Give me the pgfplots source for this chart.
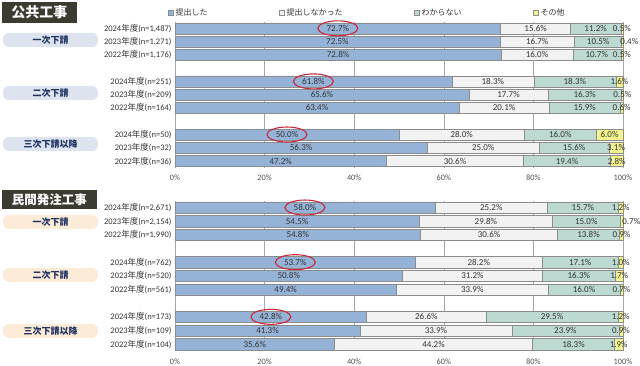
\documentclass[border=0pt]{standalone}
\usepackage{fontspec}
\setmainfont{Carlito}
\newfontfamily\jp{Noto Sans CJK JP}
\usepackage{pgfplots}
\pgfplotsset{compat=1.18}
\usepackage{pgfplotstable}
\usetikzlibrary{shapes.geometric}

\definecolor{cA}{HTML}{95B3D7}
\definecolor{cB}{HTML}{F2F2F2}
\definecolor{cC}{HTML}{BDDAD2}
\definecolor{cD}{HTML}{F4F48E}
\definecolor{edge}{HTML}{8C8C8C}
\definecolor{gridc}{HTML}{A6A6A6}
\definecolor{ringred}{HTML}{C8283C}
\definecolor{headbg}{HTML}{3D3B31}
\definecolor{navy}{HTML}{1F3162}
\definecolor{subblue}{HTML}{DDE4EF}
\definecolor{subpeach}{HTML}{FCEBD7}
\definecolor{txt}{HTML}{333333}

\newcommand\nd{{\jp 年度}}

% public works
\pgfplotstableread{
y a b c d off
10 72.7 15.6 11.2 0.5 0
9 72.5 16.7 10.5 0.4 1.5
8 72.8 16.0 10.7 0.5 0
6 61.8 18.3 18.3 1.6 0
5 65.6 17.7 16.3 0.5 0
4 63.4 20.1 15.9 0.6 0
2 50.0 28.0 16.0 6.0 0
1 56.3 25.0 15.6 3.1 0
0 47.2 30.6 19.4 2.8 0
}\pubtab
% private works
\pgfplotstableread{
y a b c d off
10 58.0 25.2 15.7 1.2 0
9 54.5 29.8 15.0 0.7 2.2
8 54.8 30.6 13.8 0.9 0
6 53.7 28.2 17.1 1.0 0
5 50.8 31.2 16.3 1.7 0
4 49.4 33.9 16.0 0.7 0
2 42.8 26.6 29.5 1.2 0
1 41.3 33.9 23.9 0.9 0
0 35.6 44.2 18.3 1.9 0
}\pritab

\pgfplotsset{
  /pgf/number format/assume math mode=true,
  barbase/.style={
    xbar stacked, scale only axis, width=448pt,
    xmin=0, xmax=100, ymin=-0.5, ymax=10.5,
    xtick={0,20,...,100}, xmajorgrids, grid style={gridc, line width=0.6pt},
    axis line style={draw=none}, major tick length=0pt,
    xticklabel={\pgfmathprintnumber{\tick}\%},
    xticklabel style={font=\fontsize{8.3}{9}\selectfont, text=txt!85, yshift=-4pt},
    ytick={0,1,2,4,5,6,8,9,10},
    yticklabel style={font=\fontsize{8.5}{10}\selectfont, text=txt},
    clip=false,
  },
  labbase/.style={scale only axis, width=448pt, xmin=0, xmax=100,
    ymin=-0.5, ymax=10.5, hide axis, clip=false},
  lab/.style={draw=none, mark=none, point meta=explicit,
    nodes near coords={\pgfmathprintnumber[fixed,fixed zerofill,precision=1]{\pgfplotspointmeta}\%},
    every node near coord/.style={anchor=center, font=\fontsize{9}{10}\selectfont, text=txt, inner sep=0pt}},
  ring/.style={draw=none, mark=none, each nth point=3, filter discard warning=false,
    nodes near coords={\phantom{0}},
    every node near coord/.style={draw=ringred, ellipse, line width=1.1pt,
      minimum width=40pt, minimum height=15pt, anchor=center, inner sep=0pt}},
}

\begin{document}
\begin{tikzpicture}[x=1pt,y=1pt]
\useasboundingbox (0,0) rectangle (640,366);

% ---------- public works ----------
\begin{axis}[barbase, at={(175pt,198.3pt)}, anchor=south west, height=146pt, bar width=11pt,
  yticklabels={{2022\nd(n=36)},{2023\nd(n=32)},{2024\nd(n=50)},
               {2022\nd(n=164)},{2023\nd(n=209)},{2024\nd(n=251)},
               {2022\nd(n=1,176)},{2023\nd(n=1,271)},{2024\nd(n=1,487)}},
  legend columns=4,
  legend style={at={(axis description cs:-0.0156,1.06)}, anchor=west, draw=none, fill=none,
    font=\fontsize{8}{9}\selectfont\jp, inner sep=0pt, text=txt,
    /tikz/every even column/.append style={column sep=69.5pt}, cells={anchor=west}},
  legend image code/.code={\draw[#1] (0pt,-2.5pt) rectangle (5pt,2.5pt);},
]
\addplot[fill=cA, draw=edge, line width=0.5pt] table[x=a, y=y]{\pubtab};
\addlegendentry{提出した}
\addplot[fill=cB, draw=edge, line width=0.5pt] table[x=b, y=y]{\pubtab};
\addlegendentry{提出しなかった}
\addplot[fill=cC, draw=edge, line width=0.5pt] table[x=c, y=y]{\pubtab};
\addlegendentry{わからない}
\addplot[fill=cD, draw=edge, line width=0.5pt] table[x=d, y=y]{\pubtab};
\addlegendentry{その他}
\end{axis}
\begin{axis}[labbase, at={(175pt,198.3pt)}, anchor=south west, height=146pt]
\addplot[lab] table[x expr=\thisrow{a}/2, y=y, meta=a]{\pubtab};
\addplot[lab] table[x expr=\thisrow{a}+\thisrow{b}/2, y=y, meta=b]{\pubtab};
\addplot[lab] table[x expr=\thisrow{a}+\thisrow{b}+\thisrow{c}/2, y=y, meta=c]{\pubtab};
\addplot[lab] table[x expr=\thisrow{a}+\thisrow{b}+\thisrow{c}+\thisrow{d}/2+\thisrow{off}, y=y, meta=d]{\pubtab};
\addplot[ring] table[x expr=\thisrow{a}/2, y=y]{\pubtab};
\end{axis}

% ---------- private works ----------
\begin{axis}[barbase, at={(175pt,15pt)}, anchor=south west, height=150.3pt, bar width=11.3pt,
  yticklabels={{2022\nd(n=104)},{2023\nd(n=109)},{2024\nd(n=173)},
               {2022\nd(n=561)},{2023\nd(n=520)},{2024\nd(n=762)},
               {2022\nd(n=1,990)},{2023\nd(n=2,154)},{2024\nd(n=2,671)}},
]
\addplot[fill=cA, draw=edge, line width=0.5pt] table[x=a, y=y]{\pritab};
\addplot[fill=cB, draw=edge, line width=0.5pt] table[x=b, y=y]{\pritab};
\addplot[fill=cC, draw=edge, line width=0.5pt] table[x=c, y=y]{\pritab};
\addplot[fill=cD, draw=edge, line width=0.5pt] table[x=d, y=y]{\pritab};
\end{axis}
\begin{axis}[labbase, at={(175pt,15pt)}, anchor=south west, height=150.3pt]
\addplot[lab] table[x expr=\thisrow{a}/2, y=y, meta=a]{\pritab};
\addplot[lab] table[x expr=\thisrow{a}+\thisrow{b}/2, y=y, meta=b]{\pritab};
\addplot[lab] table[x expr=\thisrow{a}+\thisrow{b}+\thisrow{c}/2, y=y, meta=c]{\pritab};
\addplot[lab] table[x expr=\thisrow{a}+\thisrow{b}+\thisrow{c}+\thisrow{d}/2+\thisrow{off}, y=y, meta=d]{\pritab};
\addplot[ring] table[x expr=\thisrow{a}/2, y=y]{\pritab};
\end{axis}

% ---------- side labels ----------
\node[fill=headbg, minimum width=75pt, minimum height=21pt, inner sep=0pt, text=white,
  font=\fontsize{14}{14}\selectfont\jp\bfseries] at (39.5,353.5) {公共工事};
\node[fill=headbg, minimum width=95pt, minimum height=19pt, inner sep=0pt, text=white,
  font=\fontsize{12.5}{13}\selectfont\jp\bfseries] at (49.5,166.5) {民間発注工事};

\tikzset{sub/.style={rounded corners=6pt, minimum width=95pt, minimum height=14pt,
  inner sep=0pt, text=navy, font=\fontsize{9}{10}\selectfont\jp\bfseries}}
\node[sub, fill=subblue] at (50.5,326) {一次下請};
\node[sub, fill=subblue] at (50.5,273) {二次下請};
\node[sub, fill=subblue] at (50.5,222) {三次下請以降};
\node[sub, fill=subpeach] at (50.5,144) {一次下請};
\node[sub, fill=subpeach] at (50.5,91) {二次下請};
\node[sub, fill=subpeach] at (50.5,35) {三次下請以降};
\end{tikzpicture}
\end{document}
